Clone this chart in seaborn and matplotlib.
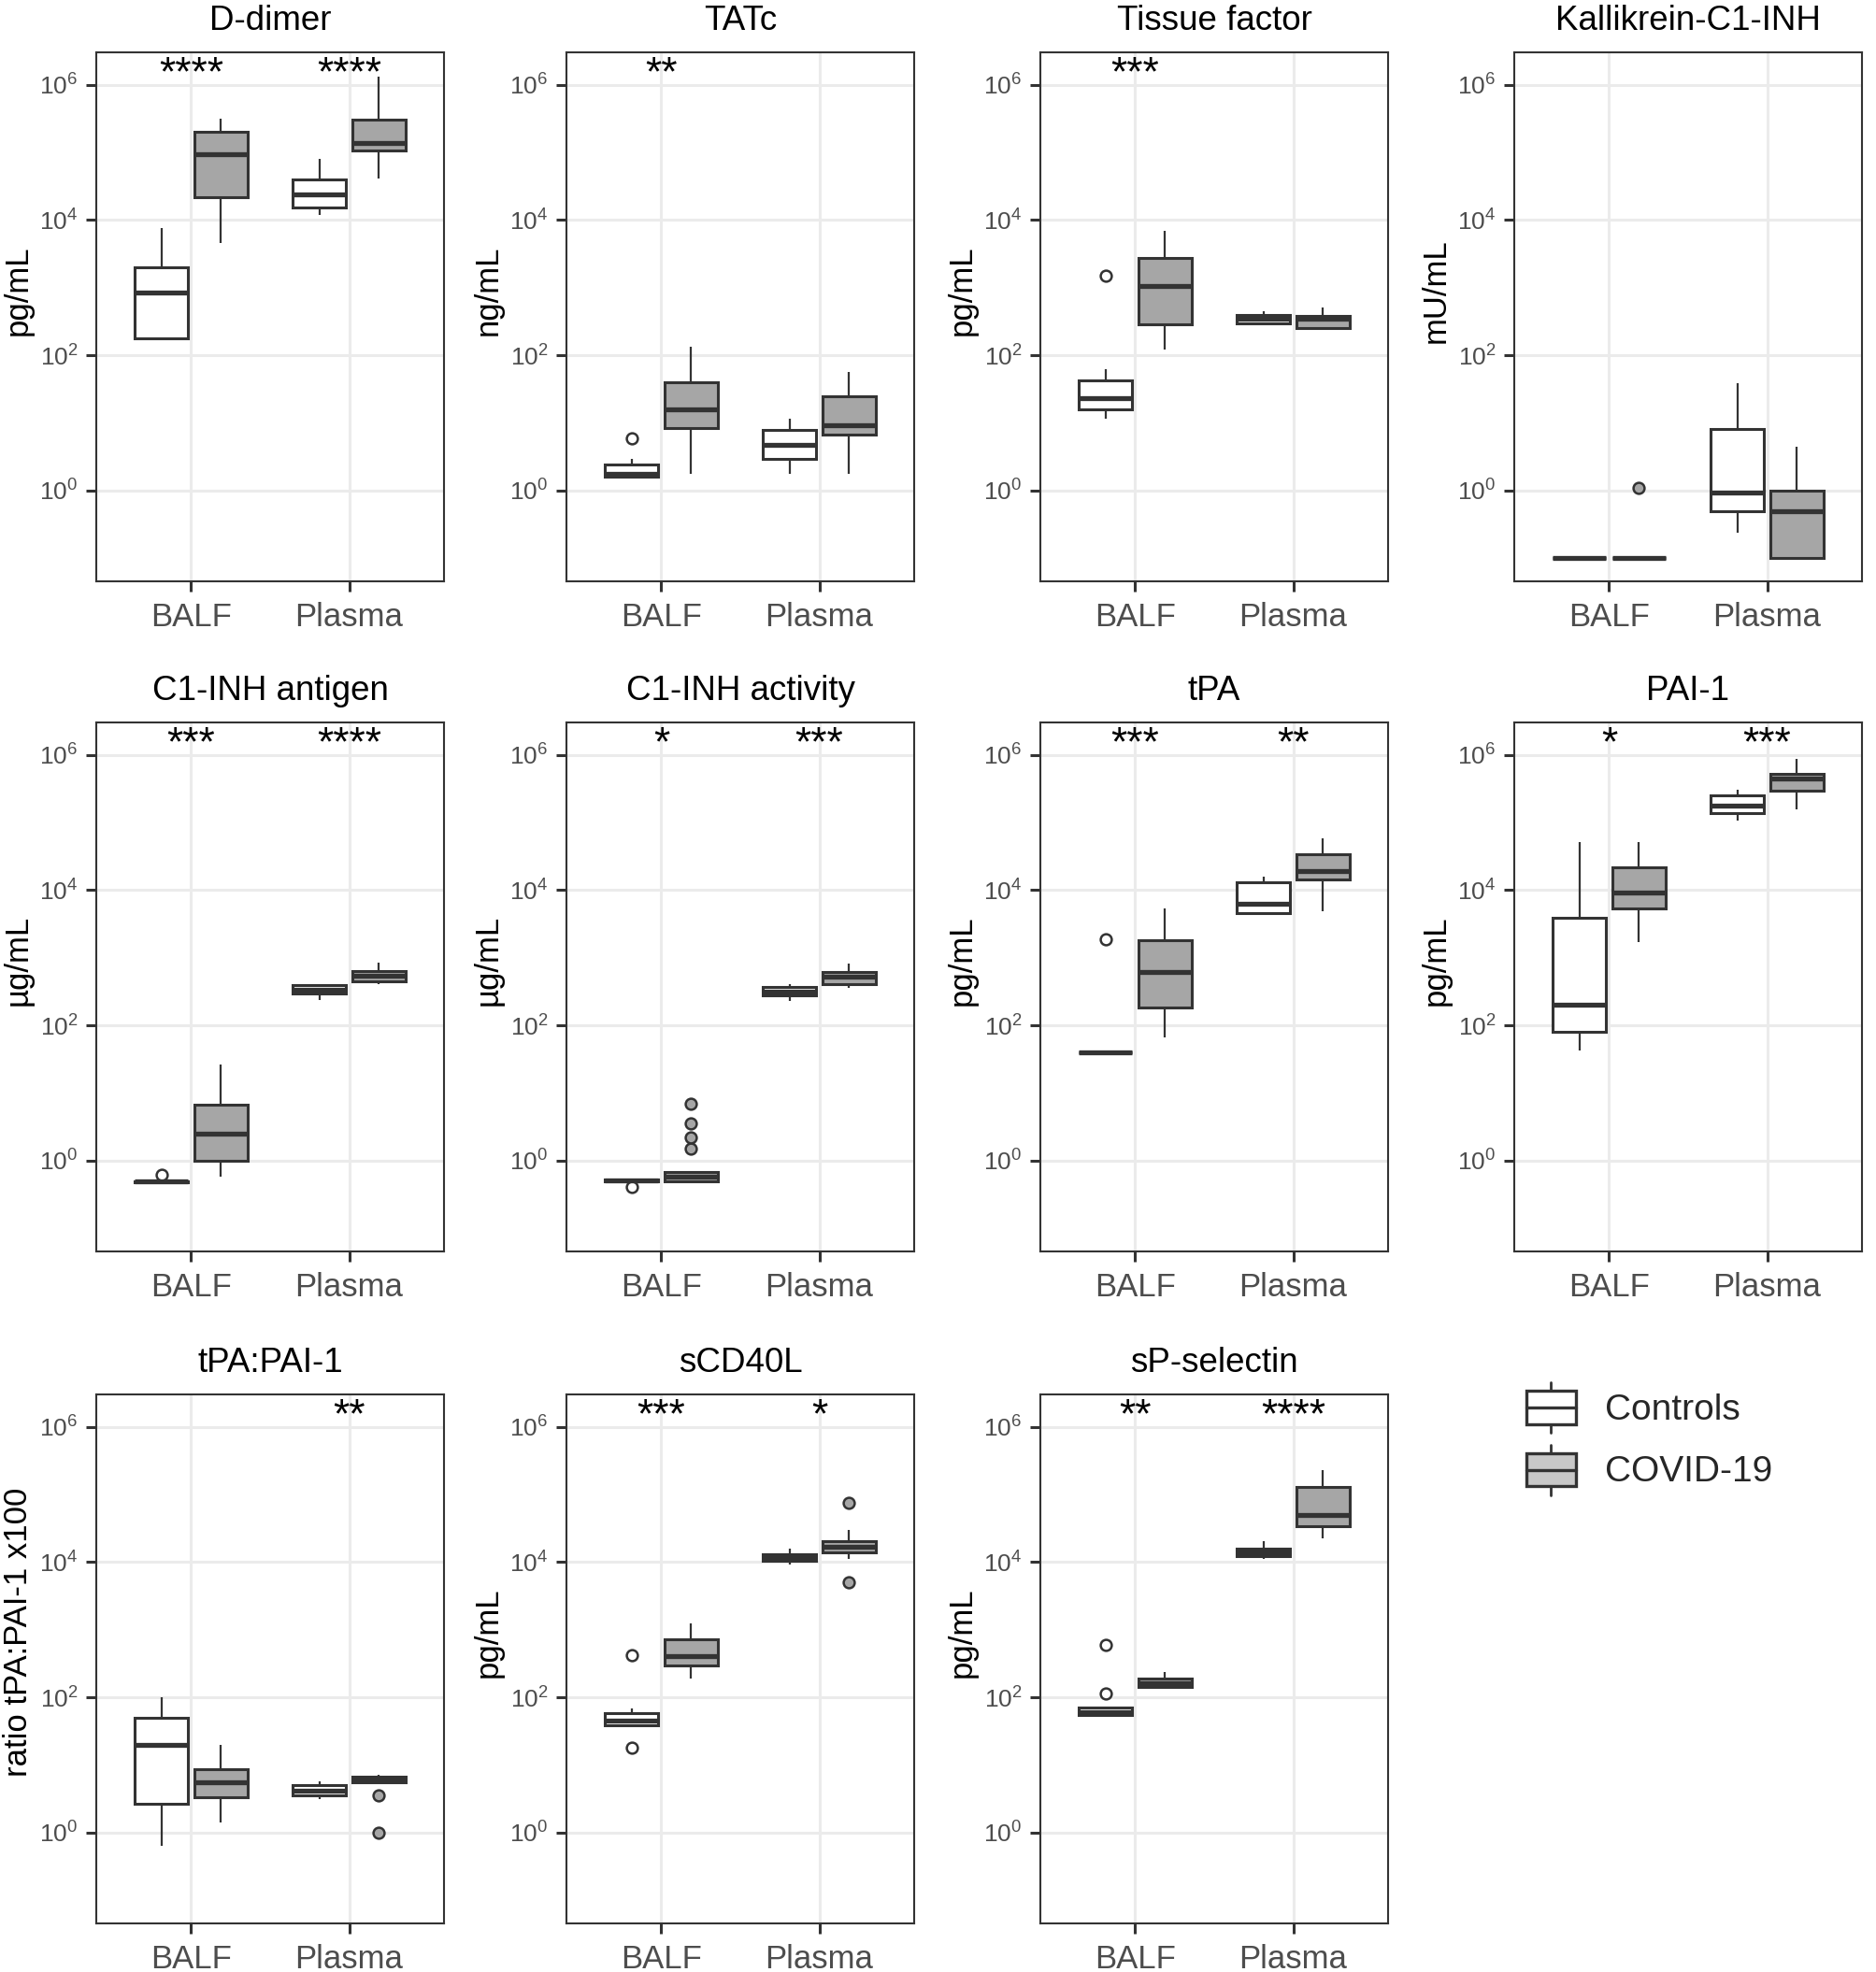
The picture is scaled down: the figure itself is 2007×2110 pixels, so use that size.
import numpy as np
import pandas as pd
import matplotlib
matplotlib.use('Agg')
import matplotlib.pyplot as plt
import seaborn as sns
from matplotlib.lines import Line2D
from matplotlib.patches import Patch, Rectangle
from matplotlib.legend_handler import HandlerBase
from matplotlib.ticker import NullLocator

# categories
SAMPLES = ['BALF', 'Plasma']
GROUPS = ['Controls', 'COVID-19']

# five-number summaries (whisker low, Q1, median, Q3, whisker high)
# order of boxes: BALF-Controls, BALF-COVID, Plasma-Controls, Plasma-COVID
D_DIMER = [(165, 178, 840, 2000, 7600), (4600, 22000, 95000, 200000, 310000),
           (12000, 15500, 24000, 40000, 80000), (41000, 105000, 137000, 300000, 1300000)]
TATC = [(1.6, 1.6, 1.74, 2.4, 2.9), (1.74, 8.5, 15.8, 40, 134),
        (1.74, 2.9, 4.7, 7.9, 11.5), (1.74, 6.6, 9.3, 24.5, 56)]
TISSUE = [(11.5, 15.8, 23.5, 42, 62), (123, 285, 1040, 2750, 6900),
          (300, 300, 345, 390, 445), (240, 255, 345, 385, 510)]
KALLIKREIN = [(0.1, 0.1, 0.1, 0.1, 0.1), (0.1, 0.1, 0.1, 0.1, 0.1),
              (0.235, 0.49, 0.92, 8.1, 39), (0.1, 0.1, 0.49, 1.0, 4.5)]
C1_ANTIGEN = [(0.47, 0.48, 0.49, 0.5, 0.5), (0.57, 0.98, 2.5, 6.8, 26),
              (233, 296, 337, 390, 405), (405, 453, 545, 628, 855)]
C1_ACTIVITY = [(0.5, 0.5, 0.51, 0.52, 0.52), (0.49, 0.49, 0.57, 0.68, 0.68),
               (228, 277, 318, 372, 410), (357, 410, 522, 610, 830)]
TPA = [(40, 40, 40, 40, 40), (66, 182, 610, 1820, 5300),
       (4250, 4600, 6300, 13000, 16000), (4900, 14200, 19000, 34000, 59000)]
PAI1 = [(43, 81, 204, 3900, 51000), (1700, 5400, 9300, 22000, 51000),
        (105000, 137000, 175000, 250000, 300000), (158000, 290000, 440000, 530000, 870000)]
RATIO = [(0.63, 2.7, 20, 50, 100), (1.4, 3.3, 5.5, 8.6, 20),
         (3.1, 3.5, 4.1, 5.1, 5.7), (5.5, 5.5, 6.0, 6.8, 7.2)]
SCD40L = [(39, 39, 45, 59, 68), (192, 293, 400, 720, 1250),
          (9100, 10500, 11500, 13200, 15800), (11000, 13800, 17000, 20400, 29700)]
SPSEL = [(55, 55, 61, 70, 70), (136, 142, 163, 187, 240),
         (11200, 12300, 13800, 15800, 20400), (22400, 34000, 50000, 128000, 225000)]

# outlying points, same box order
D_DIMER_OUT = [[], [], [], []]
TATC_OUT = [[5.9], [], [], []]
TISSUE_OUT = [[1480], [], [], []]
KALLIKREIN_OUT = [[], [1.1], [], []]
C1_ANTIGEN_OUT = [[0.62], [], [], []]
C1_ACTIVITY_OUT = [[0.41], [1.5, 2.2, 3.6, 6.9], [], []]
TPA_OUT = [[1900], [], [], []]
PAI1_OUT = [[], [], [], []]
RATIO_OUT = [[], [], [], [1.0, 3.6]]
SCD40L_OUT = [[18, 415], [], [], [5000, 76000]]
SPSEL_OUT = [[115, 590], [], [], []]

TITLES = ['D-dimer', 'TATc', 'Tissue factor', 'Kallikrein-C1-INH',
          'C1-INH antigen', 'C1-INH activity', 'tPA', 'PAI-1',
          'tPA:PAI-1', 'sCD40L', 'sP-selectin']
YLABELS = ['pg/mL', 'ng/mL', 'pg/mL', 'mU/mL',
           'µg/mL', 'µg/mL', 'pg/mL', 'pg/mL',
           'ratio tPA:PAI-1 x100', 'pg/mL', 'pg/mL']
STARS = [('****', '****'), ('**', ''), ('***', ''), ('', ''),
         ('***', '****'), ('*', '***'), ('***', '**'), ('*', '***'),
         ('', '**'), ('***', '*'), ('**', '****')]

BOXES = [D_DIMER, TATC, TISSUE, KALLIKREIN, C1_ANTIGEN, C1_ACTIVITY,
         TPA, PAI1, RATIO, SCD40L, SPSEL]
OUTLIERS = [D_DIMER_OUT, TATC_OUT, TISSUE_OUT, KALLIKREIN_OUT, C1_ANTIGEN_OUT,
            C1_ACTIVITY_OUT, TPA_OUT, PAI1_OUT, RATIO_OUT, SCD40L_OUT, SPSEL_OUT]

LINE = '#333333'
FILLS = {'Controls': 'white', 'COVID-19': '#A6A6A6'}


def box_sample(five, extra, reps=8):
    # repeat the read quartiles so seaborn's own percentile step lands on them
    lo, q1, med, q3, hi = five
    return [lo] + [q1] * reps + [med] * reps + [q3] * reps + [hi] + list(extra)


def panel_frame(boxes, outliers):
    rows = []
    for k, (five, extra) in enumerate(zip(boxes, outliers)):
        for v in box_sample(five, extra):
            rows.append((SAMPLES[k // 2], GROUPS[k % 2], v))
    return pd.DataFrame(rows, columns=['sample', 'group', 'value'])


class BoxKey(HandlerBase):
    def create_artists(self, legend, orig_handle, xdescent, ydescent,
                       width, height, fontsize, trans):
        x0, y0 = -xdescent, -ydescent
        rect = Rectangle((x0, y0 + 0.175 * height), width, 0.65 * height,
                         facecolor=orig_handle.get_facecolor(), edgecolor=LINE,
                         linewidth=2.4, transform=trans)
        med = Line2D([x0, x0 + width], [y0 + 0.5 * height] * 2,
                     color=LINE, linewidth=2.4, transform=trans)
        top = Line2D([x0 + width / 2] * 2, [y0 + 0.825 * height, y0 + height],
                     color=LINE, linewidth=2.0, transform=trans)
        bot = Line2D([x0 + width / 2] * 2, [y0, y0 + 0.175 * height],
                     color=LINE, linewidth=2.0, transform=trans)
        return [top, bot, rect, med]


sns.set_theme(style='whitegrid', rc={
    'axes.edgecolor': LINE, 'axes.linewidth': 1.5,
    'grid.color': '#EBEBEB', 'grid.linewidth': 2.2,
    'xtick.bottom': True, 'ytick.left': True,
    'xtick.major.size': 8, 'ytick.major.size': 8,
    'xtick.major.width': 2.2, 'ytick.major.width': 2.2,
    'xtick.color': LINE, 'ytick.color': LINE,
    'xtick.labelcolor': '#4D4D4D', 'ytick.labelcolor': '#4D4D4D',
    'xtick.labelsize': 25, 'ytick.labelsize': 19,
    'xtick.major.pad': 8, 'ytick.major.pad': 6,
})
plt.rcParams['font.family'] = ['Liberation Sans', 'DejaVu Sans']
plt.rcParams['mathtext.default'] = 'regular'

W, H = 2008, 2110
fig = plt.figure(figsize=(W / 100, H / 100), dpi=100)

col_left = [103, 606, 1113, 1620]
row_top = [56, 773, 1492]
pw, ph = 372, 566

for i, title in enumerate(TITLES):
    r, c = divmod(i, 4)
    ax = fig.add_axes([col_left[c] / W, 1 - (row_top[r] + ph) / H, pw / W, ph / H])
    df = panel_frame(BOXES[i], OUTLIERS[i])
    sns.boxplot(data=df, x='sample', y='value', hue='group', order=SAMPLES,
                hue_order=GROUPS, palette=FILLS, saturation=1, width=0.75, gap=0.1,
                linecolor=LINE, linewidth=2.2, fliersize=8.5, log_scale=True,
                legend=False, ax=ax,
                medianprops={'linewidth': 3.8},
                whiskerprops={'linewidth': 1.6},
                capprops={'visible': False},
                flierprops={'marker': 'o', 'markeredgewidth': 1.8})

    # fill the outlier circles by group (left box = Controls)
    for line in ax.lines:
        xs = np.asarray(line.get_xdata(), dtype=float)
        if line.get_marker() == 'o' and xs.size:
            off = xs.mean() - np.round(xs.mean())
            line.set_markerfacecolor('white' if off < 0 else '#A6A6A6')
            line.set_markeredgecolor(LINE)

    ax.set_ylim(10 ** -1.343, 10 ** 6.478)
    ax.set_yticks([1, 1e2, 1e4, 1e6])
    ax.yaxis.set_minor_locator(NullLocator())
    ax.set_xlim(-0.6, 1.6)
    ax.grid(True, which='major', axis='both', color='#EBEBEB', linewidth=2.2)
    ax.set_axisbelow(True)
    ax.set_xlabel('')
    ax.set_ylabel(YLABELS[i], fontsize=25, color='black')
    ax.yaxis.set_label_coords(-84 / pw, 0.55)
    ax.yaxis.label.set_va('center')
    ax.set_title(title, fontsize=26.5, pad=17, color='black')

    for j, s in enumerate(STARS[i]):
        if s:
            ax.text(j, 10 ** 5.99, s, ha='center', va='baseline',
                    fontsize=32, color='black')

handles = [Patch(facecolor='white', edgecolor=LINE, label='Controls'),
           Patch(facecolor='#C8C8C8', edgecolor=LINE, label='COVID-19')]
fig.legend(handles=handles, handler_map={Patch: BoxKey()}, loc='upper left',
           bbox_to_anchor=(1633 / W, 1 - 1479 / H), frameon=False, fontsize=28,
           handlelength=1.36, handleheight=1.76, handletextpad=0.8,
           labelspacing=0.33, borderpad=0, borderaxespad=0)

fig.savefig('out.png', dpi=100)
